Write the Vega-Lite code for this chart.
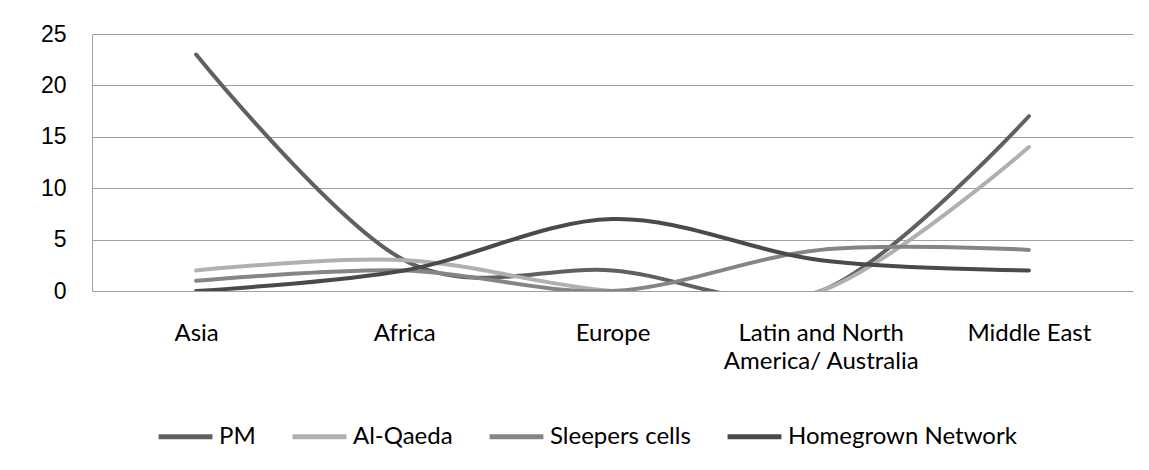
{
  "$schema": "https://vega.github.io/schema/vega-lite/v6.json",
  "width": 1041,
  "height": 257,
  "autosize": {"type": "none"},
  "padding": {"left": 92, "top": 34, "right": 16, "bottom": 179},
  "background": "white",
  "config": {
    "view": {"stroke": null},
    "font": "Lato"
  },
  "data": {
    "values": [
      {"region": "Asia", "series": "PM", "value": 23},
      {"region": "Africa", "series": "PM", "value": 3},
      {"region": "Europe", "series": "PM", "value": 2},
      {"region": "Latin and North America/ Australia", "series": "PM", "value": 0},
      {"region": "Middle East", "series": "PM", "value": 17},
      {"region": "Asia", "series": "Al-Qaeda", "value": 2},
      {"region": "Africa", "series": "Al-Qaeda", "value": 3},
      {"region": "Europe", "series": "Al-Qaeda", "value": 0},
      {"region": "Latin and North America/ Australia", "series": "Al-Qaeda", "value": 0},
      {"region": "Middle East", "series": "Al-Qaeda", "value": 14},
      {"region": "Asia", "series": "Sleepers cells", "value": 1},
      {"region": "Africa", "series": "Sleepers cells", "value": 2},
      {"region": "Europe", "series": "Sleepers cells", "value": 0},
      {"region": "Latin and North America/ Australia", "series": "Sleepers cells", "value": 4},
      {"region": "Middle East", "series": "Sleepers cells", "value": 4},
      {"region": "Asia", "series": "Homegrown Network", "value": 0},
      {"region": "Africa", "series": "Homegrown Network", "value": 2},
      {"region": "Europe", "series": "Homegrown Network", "value": 7},
      {"region": "Latin and North America/ Australia", "series": "Homegrown Network", "value": 3},
      {"region": "Middle East", "series": "Homegrown Network", "value": 2}
    ]
  },
  "mark": {"type": "line", "interpolate": "cardinal", "strokeWidth": 4, "strokeCap": "round", "clip": true},
  "encoding": {
    "x": {
      "field": "region",
      "type": "nominal",
      "sort": null,
      "scale": {"type": "point", "padding": 0.5},
      "axis": {
        "title": null,
        "domain": false,
        "ticks": false,
        "labelAngle": 0,
        "labelFont": "Lato",
        "labelFontSize": 24,
        "labelColor": "#000000",
        "labelPadding": 42,
        "labelBaseline": "middle",
        "labelLineHeight": 28,
        "labelLimit": 0,
        "labelExpr": "datum.label == 'Latin and North America/ Australia' ? ['Latin and North', 'America/ Australia'] : datum.label"
      }
    },
    "y": {
      "field": "value",
      "type": "quantitative",
      "scale": {"domain": [0, 25], "nice": false},
      "axis": {
        "title": null,
        "values": [0, 5, 10, 15, 20, 25],
        "ticks": false,
        "domain": true,
        "domainColor": "#a0a0a0",
        "domainWidth": 1,
        "grid": true,
        "gridColor": "#a0a0a0",
        "gridWidth": 1,
        "labelFont": "Liberation Sans",
        "labelFontSize": 23,
        "labelColor": "#000000",
        "labelPadding": 26
      }
    },
    "color": {
      "field": "series",
      "type": "nominal",
      "scale": {
        "domain": ["PM", "Al-Qaeda", "Sleepers cells", "Homegrown Network"],
        "range": ["#606060", "#b0b0b0", "#858585", "#4a4a4a"]
      },
      "legend": {
        "title": null,
        "orient": "none",
        "direction": "horizontal",
        "legendX": 64,
        "legendY": 373,
        "symbolType": "stroke",
        "symbolSize": 2900,
        "symbolStrokeWidth": 5,
        "labelFont": "Lato",
        "labelFontSize": 24,
        "labelColor": "#000000",
        "labelOffset": 4,
        "labelLimit": 0,
        "columnPadding": 26
      }
    }
  }
}
